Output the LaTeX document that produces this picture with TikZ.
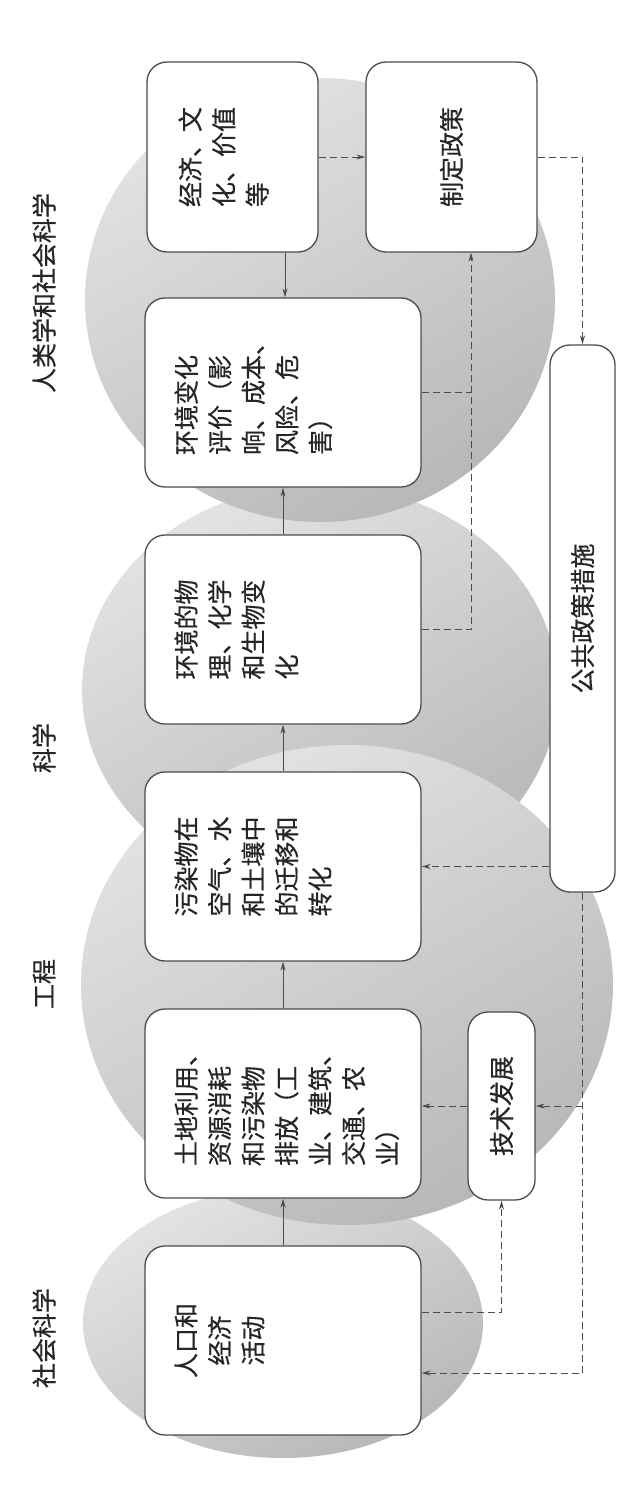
\documentclass[tikz,border=0pt]{standalone}
\usepackage{fontspec}
\newfontfamily\cjk[RawFeature={embolden=0.5}]{Noto Sans CJK SC}
\usetikzlibrary{arrows.meta}
\tikzset{
 box/.style={draw=black!70, line width=1.3pt, rounded corners=20pt, fill=white, inner sep=0pt},
 txt/.style={font=\cjk\fontsize{25}{33.5}\selectfont, text=black!85, inner sep=0pt, rotate=90, align=left},
 lbl/.style={font=\cjk\fontsize{25}{30}\selectfont, text=black!85, inner sep=0pt, rotate=90},
 sarr/.style={draw=black!70, line width=1pt, -{Stealth[length=9pt,width=5pt]}},
 darr/.style={draw=black!70, line width=1pt, dash pattern=on 7pt off 4pt, -{Stealth[length=9pt,width=5pt]}},
 dline/.style={draw=black!70, line width=1pt, dash pattern=on 7pt off 4pt},
 blob/.style={top color=black!11, bottom color=black!28, shading angle=30},
}
\begin{document}
\begin{tikzpicture}[x=1pt,y=-1pt]
\useasboundingbox[fill=white] (0,0) rectangle (624,1509);
% shaded discipline areas
\shade[blob] (283,1323) ellipse [x radius=200pt, y radius=135pt];
\shade[blob] (320,690) ellipse [x radius=238pt, y radius=205pt];
\shade[blob] (347,985) ellipse [x radius=266pt, y radius=240pt];
\shade[blob] (320,300) ellipse [x radius=235pt, y radius=222pt];
% boxes
\node[box, minimum width=276pt, minimum height=189pt] (A) at (283,1340.5) {};
\node[box, minimum width=276pt, minimum height=189pt] (B) at (283,1103.5) {};
\node[box, minimum width=276pt, minimum height=189pt] (C) at (283,866.5) {};
\node[box, minimum width=276pt, minimum height=189pt] (D) at (283,629.5) {};
\node[box, minimum width=276pt, minimum height=189pt] (E) at (283,392.5) {};
\node[box, minimum width=171pt, minimum height=190pt] (F) at (232.5,157) {};
\node[box, minimum width=171pt, minimum height=190pt] (G) at (451.5,157) {};
\node[box, minimum width=65pt, minimum height=547pt] (H) at (582.5,618.5) {};
\node[box, minimum width=67pt, minimum height=188pt] (I) at (501.5,1106) {};
% texts
\node[txt, anchor=north, align=center] (At) at ([xshift=30pt]A.west) {人口和\\经济\\活动};
\node[txt, anchor=north] (Bt) at ([xshift=30pt]B.west) {土地利用、\\资源消耗\\和污染物\\排放（工\\业、建筑、\\交通、农\\业）};
\node[txt, anchor=north] (Ct) at ([xshift=30pt]C.west) {污染物在\\空气、水\\和土壤中\\的迁移和\\转化};
\node[txt, anchor=north] (Dt) at ([xshift=30pt]D.west) {环境的物\\理、化学\\和生物变\\化};
\node[txt, anchor=north] (Et) at ([xshift=30pt]E.west) {环境变化\\评价（影\\响、成本、\\风险、危\\害）};
\node[txt, anchor=north] (Ft) at ([xshift=32pt]F.west) {经济、文\\化、价值\\等};
\node[txt] (Gt) at (G) {制定政策};
\node[txt] (Ht) at (H) {公共政策措施};
\node[txt] (It) at (I) {技术发展};
% discipline labels
\node[lbl] (L1) at (44,293) {人类学和社会科学};
\node[lbl] (L2) at (44,748) {科学};
\node[lbl] (L3) at (44,984) {工程};
\node[lbl] (L4) at (44,1338) {社会科学};
% solid arrows
\draw[sarr] (A.north) -- (B.south);
\draw[sarr] (B.north) -- (C.south);
\draw[sarr] (C.north) -- (D.south);
\draw[sarr] (D.north) -- (E.south);
\draw[sarr] ([xshift=2pt]E.north |- F.south) -- ([xshift=2pt]E.north);
% dashed arrows
\draw[darr] (F.east) -- (G.west);
\draw[darr] (G.east) -| (H.north);
\draw[darr] (D.east) -| ([xshift=19.5pt]G.south);
\draw[dline] (E.east) -- ([xshift=19.5pt]G.south |- E.east);
\draw[darr] (H.west |- C.east) -- (C.east);
\draw[darr] (H.south) |- ([yshift=-32.5pt]A.east);
\draw[darr] (H.south |- I.east) -- (I.east);
\draw[darr] (I.west) -- (B.east |- I.west);
\draw[darr] ([yshift=28.5pt]A.east) -| (I.south);
\end{tikzpicture}
\end{document}
